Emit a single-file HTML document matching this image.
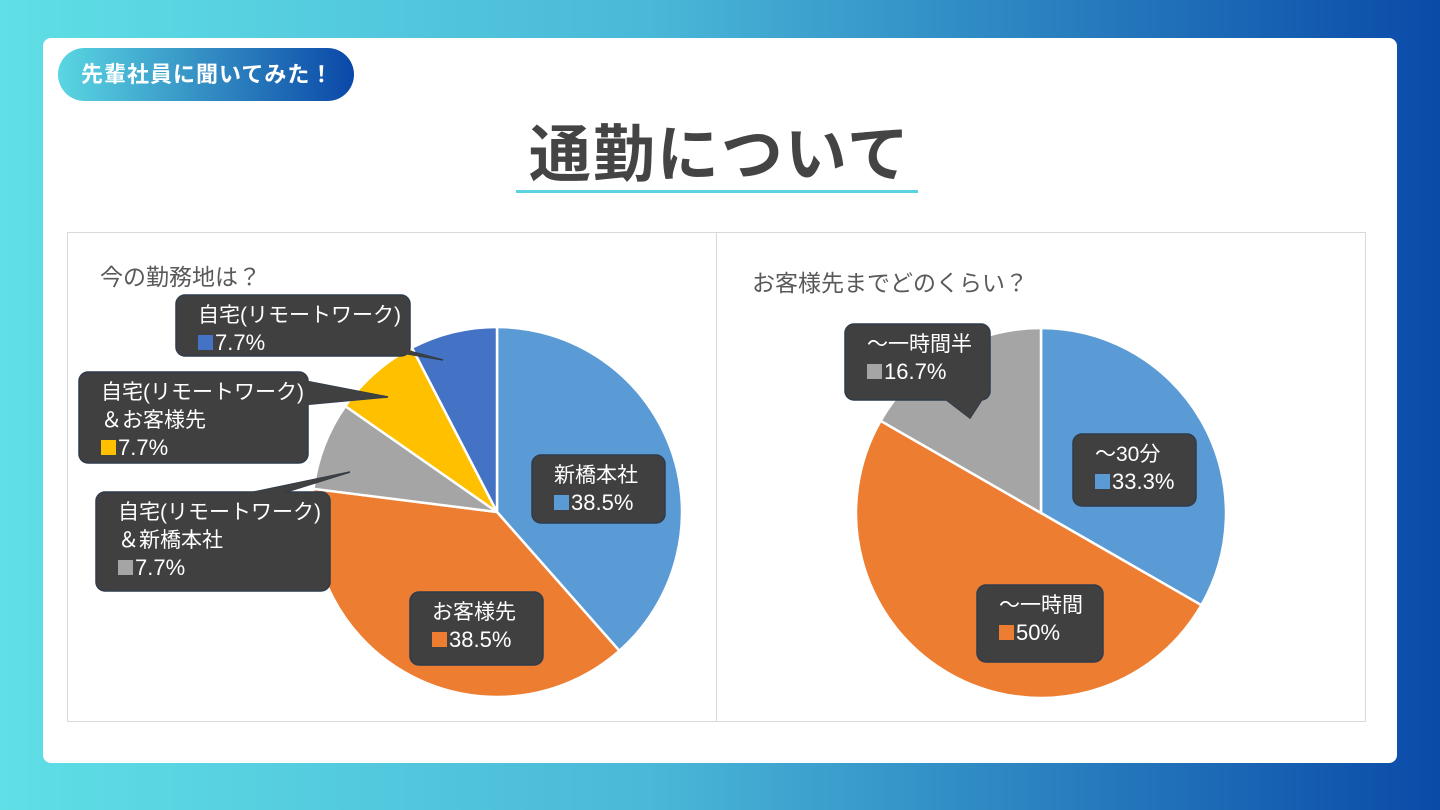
<!DOCTYPE html>
<html><head><meta charset="utf-8"><style>
*{margin:0;padding:0;box-sizing:border-box}
body{width:1440px;height:810px;overflow:hidden;background:linear-gradient(90deg,#5fdfe6 0%,#4ab8d8 45%,#0a4aa8 100%);font-family:"Liberation Sans","Noto Sans CJK JP",sans-serif;position:relative}
.card{position:absolute;left:43px;top:38px;width:1354px;height:725px;background:#fff;border-radius:8px}
.pill{position:absolute;left:58px;top:48px;width:296px;height:53px;border-radius:27px;background:linear-gradient(90deg,#5ad6e2,#2f86c0 55%,#0a48a8);color:#fff;font-weight:bold;font-size:22px;line-height:53px;padding-left:23px;letter-spacing:1px}
.title{position:absolute;left:0;width:1440px;top:104px;text-align:center;font-size:62px;font-weight:bold;color:#444;letter-spacing:2px}
.ul{position:absolute;left:516px;top:190px;width:402px;height:3px;background:#5bd3e0}
.panel{position:absolute;top:232px;height:490px;border:1.5px solid #d9d9d9}
.ct{position:absolute;font-size:23px;color:#595959}
svg{position:absolute;left:0;top:0}
</style></head><body>
<div class="card"></div>
<div class="pill">先輩社員に聞いてみた！</div>
<div class="title">通勤について</div>
<div class="ul"></div>
<div class="panel" style="left:67px;width:650px"></div>
<div class="panel" style="left:716px;width:650px"></div>
<div class="ct" style="left:100px;top:258px">今の勤務地は？</div>
<div class="ct" style="left:752px;top:264px">お客様先までどのくらい？</div>
<svg id="s" width="1440" height="810" font-family="Liberation Sans, Noto Sans CJK JP, sans-serif"></svg>
<script>
const s=document.getElementById('s');let h='';
function pie(cx,cy,r,data){let a=0;for(const[v,c]of data){const a1=a+v*2*Math.PI;const x0=cx+r*Math.sin(a),y0=cy-r*Math.cos(a),x1=cx+r*Math.sin(a1),y1=cy-r*Math.cos(a1);h+=`<path d="M${cx},${cy}L${x0},${y0}A${r},${r} 0 ${v>0.5?1:0} 1 ${x1},${y1}Z" fill="${c}" stroke="#fff" stroke-width="2.5"/>`;a=a1;}}
pie(497,512,185,[[.385,'#5b9bd5'],[.385,'#ed7d31'],[.077,'#a5a5a5'],[.077,'#ffc000'],[.076,'#4472c4']]);
pie(1041,513,185,[[.333,'#5b9bd5'],[.5,'#ed7d31'],[.167,'#a5a5a5']]);
function box(x,y,w,hh,lines,col,tail){if(tail)h+=`<polygon points="${tail}" fill="#404040" stroke="#2f3b4a" stroke-width="1.5"/>`;h+=`<rect x="${x}" y="${y}" width="${w}" height="${hh}" rx="9" fill="#404040" stroke="#2f3b4a" stroke-width="1.5"/>`;if(tail)h+=`<polygon points="${tail}" fill="#404040"/>`;
let ty=y+27;lines.forEach((l,i)=>{if(i==lines.length-1){h+=`<rect x="${x+22}" y="${ty-15}" width="15" height="15" fill="${col}"/><text x="${x+39}" y="${ty}" fill="#fff" font-size="22">${l}</text>`}else h+=`<text x="${x+22}" y="${ty}" fill="#fff" font-size="21">${l}</text>`;ty+=28});}
box(176,295,234,61,['自宅(リモートワーク)','7.7%'],'#4472c4','385,350 405,350 443,360');
box(79,372,229,91,['自宅(リモートワーク)','＆お客様先','7.7%'],'#ffc000','300,380 300,405 388,397');
box(96,492,234,99,['自宅(リモートワーク)','＆新橋本社','7.7%'],'#a5a5a5','230,497 270,497 350,472');
box(532,455,133,68,['新橋本社','38.5%'],'#5b9bd5');
box(410,592,133,73,['お客様先','38.5%'],'#ed7d31');
box(845,324,145,76,['～一時間半','16.7%'],'#a5a5a5','940,395 985,395 970,418');
box(1073,434,123,72,['～30分','33.3%'],'#5b9bd5');
box(977,585,126,77,['～一時間','50%'],'#ed7d31');
s.innerHTML=h;
</script>
</body></html>
